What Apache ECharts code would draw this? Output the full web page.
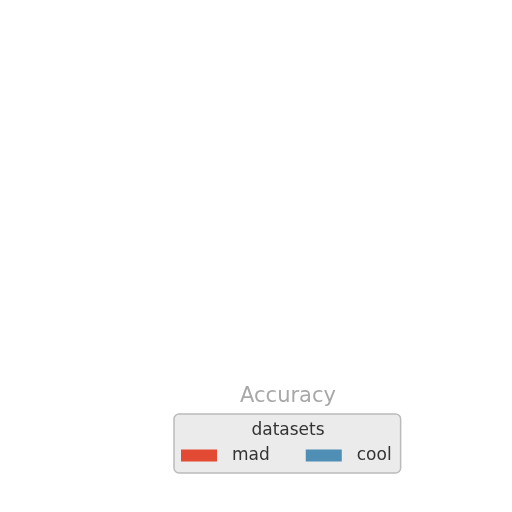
<!DOCTYPE html>
<html>
<head>
<meta charset="utf-8">
<script src="https://cdn.jsdelivr.net/npm/echarts@6/dist/echarts.min.js"></script>
<style>
  html, body { margin: 0; padding: 0; background: #fff; }
  #main { width: 512px; height: 512px; }
</style>
</head>
<body>
<div id="main"></div>
<script>
// nothing of the plot itself is visible, only the axis label and legend
const seriesNames = ['mad', 'cool'];
const seriesColors = ['#e24a33', '#4f8fb5'];
const madValues = [];
const coolValues = [];
const categories = [];

const chart = echarts.init(document.getElementById('main'));

const option = {
    backgroundColor: '#ffffff',
    animation: false,
    textStyle: { fontFamily: 'DejaVu Sans' },
    title: [
        {
            text: 'Accuracy',
            left: 283,
            top: 381,
            textAlign: 'center',
            textStyle: { fontSize: 21, fontWeight: 'normal', color: '#a8a8a8' }
        },
        {
            text: 'datasets',
            left: 283,
            top: 417,
            textAlign: 'center',
            z: 10,
            textStyle: { fontSize: 17, fontWeight: 'normal', color: '#333333' }
        }
    ],
    legend: {
        left: 174,
        top: 414,
        orient: 'horizontal',
        itemWidth: 36,
        itemHeight: 12,
        itemGap: 36,
        icon: 'rect',
        padding: [33, 9, 9, 7],
        backgroundColor: '#ebebeb',
        borderColor: '#bbbbbb',
        borderWidth: 1.5,
        borderRadius: 5,
        textStyle: { fontSize: 17, color: '#333333', padding: [0, 0, 0, 10] },
        data: seriesNames
    },
    grid: { show: false },
    xAxis: { type: 'category', data: categories, show: false },
    yAxis: { type: 'value', show: false },
    series: [
        { name: seriesNames[0], type: 'bar', data: madValues, itemStyle: { color: seriesColors[0] } },
        { name: seriesNames[1], type: 'bar', data: coolValues, itemStyle: { color: seriesColors[1] } }
    ]
};

chart.setOption(option);
</script>
</body>
</html>
